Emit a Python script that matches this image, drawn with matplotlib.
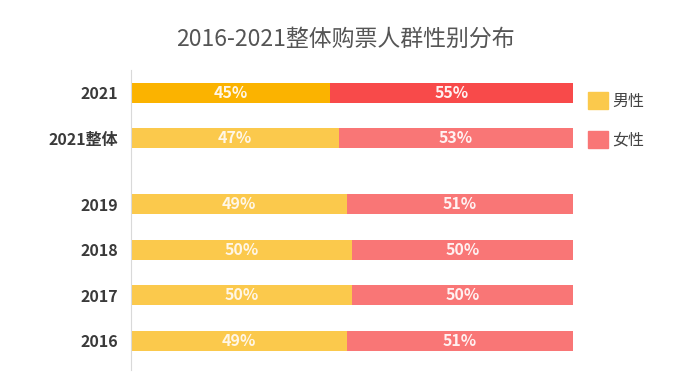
import matplotlib
matplotlib.use('Agg')
import matplotlib.pyplot as plt
from matplotlib.patches import Patch

plt.rcParams['font.family'] = ['Noto Sans CJK SC', 'DejaVu Sans']

categories = ['2021', '2021整体', '2019', '2018', '2017', '2016']
male = [45, 47, 49, 50, 50, 49]
female = [55, 53, 51, 50, 50, 51]
title = '2016-2021整体购票人群性别分布'
legend_labels = ['男性', '女性']

# layout: extra gap between the 2021 rows and the yearly rows
y_pos = [0, 1, 2.45, 3.45, 4.45, 5.45]
male_colors = ['#FBB300'] + ['#FBC94C'] * 5
female_colors = ['#F84A4A'] + ['#F97676'] * 5

fig = plt.figure(figsize=(6.9, 3.91), dpi=100)
ax = fig.add_axes([0.19, 0.054, 0.64, 0.767])

ax.barh(y_pos, male, height=0.44, color=male_colors, left=0)
ax.barh(y_pos, female, height=0.44, color=female_colors, left=male)

for y, m, f in zip(y_pos, male, female):
    ax.text(m / 2, y, f'{m}%', ha='center', va='center', color='#FFF6E6',
            fontsize=11.5, fontweight='bold')
    ax.text(m + f / 2, y, f'{f}%', ha='center', va='center', color='#FFF0F0',
            fontsize=11.5, fontweight='bold')

ax.set_xlim(0, 100)
ax.set_ylim(6.09, -0.5)
ax.set_yticks(y_pos)
ax.set_yticklabels(categories, fontsize=11.5, fontweight='bold', color='#3A3A3A')
ax.set_xticks([])
ax.tick_params(axis='y', length=0, pad=9)
for side in ['top', 'right', 'bottom']:
    ax.spines[side].set_visible(False)
ax.spines['left'].set_color('#D9D9D9')
ax.spines['left'].set_linewidth(0.8)

handles = [Patch(color='#FBC94C'), Patch(color='#F97676')]
fig.legend(handles, legend_labels, loc='upper left', bbox_to_anchor=(0.852, 0.764),
           frameon=False, fontsize=11.5, handlelength=1.25, handleheight=1.25,
           labelspacing=1.3, handletextpad=0.3, labelcolor='#444444',
           borderaxespad=0, borderpad=0)

fig.text(0.5, 0.9, title, ha='center', va='center', fontsize=16.5, color='#555555')

fig.savefig('out.png', dpi=100, facecolor='white')
